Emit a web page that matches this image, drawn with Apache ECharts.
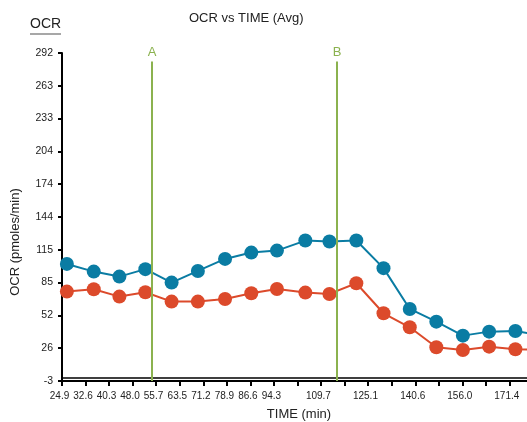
<!DOCTYPE html>
<html>
<head>
<meta charset="utf-8">
<script src="https://cdn.jsdelivr.net/npm/echarts@6/dist/echarts.min.js"></script>
<style>html,body{margin:0;padding:0;background:#fff}#c{width:527px;height:422px}</style>
</head>
<body>
<div id="c"></div>
<script>
// ---- data ----
const times = [26.5, 35.3, 43.7, 52.2, 60.8, 69.4, 78.3, 86.9, 95.3, 104.6, 112.5, 121.3, 130.2, 138.8, 147.5, 156.2, 164.8, 173.4, 182.1];
const blueValues = [102.3, 95.4, 90.9, 97.6, 85.5, 96.0, 106.8, 112.5, 114.3, 123.3, 122.4, 123.3, 98.5, 61.8, 50.4, 37.8, 41.4, 42.0, 37.8];
const redValues = [77.4, 79.5, 72.9, 76.8, 68.4, 68.4, 70.8, 75.9, 79.8, 76.5, 75.3, 84.9, 57.9, 45.3, 27.3, 24.9, 27.9, 25.5, 25.0];
const xTickValues = [24.9, 32.6, 40.3, 48.0, 55.7, 63.5, 71.2, 78.9, 86.6, 94.3, 102.0, 109.7, 117.4, 125.1, 132.8, 140.6, 148.3, 156.0, 163.7, 171.4];
const xLabelValues = [24.9, 32.6, 40.3, 48.0, 55.7, 63.5, 71.2, 78.9, 86.6, 94.3, 109.7, 125.1, 140.6, 156.0, 171.4];
const yTickValues = [-3, 26.5, 56, 85.5, 115, 144.5, 174, 203.5, 233, 262.5, 292];
const yTickLabels = ['-3', '26', '52', '85', '115', '144', '174', '204', '233', '263', '292'];
const markerTimes = [54.4, 115.0];
const markerNames = ['A', 'B'];
const markerTop = 284.4;

const FONT = 'Liberation Sans, Arial, Helvetica, sans-serif';
const BLUE = '#0a7ca3';
const RED = '#dc4a2b';
const GREEN = '#8bb24f';

const chart = echarts.init(document.getElementById('c'), null, {renderer: 'canvas'});

const pairs = (xs, ys) => xs.map((x, i) => [x, ys[i]]);

const markLineData = markerTimes.map((t, i) => [
  {coord: [t, yTickValues[0]], symbol: 'none'},
  {coord: [t, markerTop], symbol: 'none', label: {show: true, formatter: markerNames[i]}}
]);

const option = {
  animation: false,
  grid: {left: 62, right: 0, top: 53, bottom: 41, containLabel: false},
  xAxis: [{
    type: 'value', min: 24.9, max: 177.2,
    axisLine: {show: true, onZero: false, lineStyle: {color: '#000', width: 2}},
    axisTick: {show: true, customValues: xTickValues, length: 5, lineStyle: {color: '#000', width: 2}},
    axisLabel: {
      show: true, customValues: xLabelValues, margin: 10,
      color: '#222', fontSize: 10, fontFamily: FONT, padding: [0, 5, 0, 0],
      formatter: v => v.toFixed(1)
    },
    splitLine: {show: false}
  }, {
    type: 'value', min: 24.9, max: 177.2, position: 'bottom', offset: -3,
    axisLine: {show: true, onZero: false, lineStyle: {color: '#000', width: 1.5}},
    axisTick: {show: false}, axisLabel: {show: false}, splitLine: {show: false}
  }],
  yAxis: {
    type: 'value', min: -3, max: 292,
    axisLine: {show: true, onZero: false, lineStyle: {color: '#000', width: 2}},
    axisTick: {show: true, customValues: yTickValues, length: 4, lineStyle: {color: '#000', width: 2}},
    axisLabel: {
      show: true, customValues: yTickValues, margin: 9,
      color: '#222', fontSize: 10.5, fontFamily: FONT,
      formatter: v => {
        const i = yTickValues.findIndex(t => Math.abs(t - v) < 0.01);
        return i >= 0 ? yTickLabels[i] : '';
      }
    },
    splitLine: {show: false}
  },
  graphic: [
    {type: 'text', left: 189, top: 12, style: {text: 'OCR vs TIME (Avg)', font: '13px ' + FONT, fill: '#222'}},
    {type: 'text', left: 30, top: 17, style: {text: 'OCR', font: '14px ' + FONT, fill: '#222'}},
    {type: 'line', shape: {x1: 30, y1: 34, x2: 61, y2: 34}, style: {stroke: '#8a8a8a', lineWidth: 1.5}},
    {type: 'text', x: 15, y: 242, rotation: Math.PI / 2,
      style: {text: 'OCR (pmoles/min)', font: '13px ' + FONT, fill: '#222', align: 'center', verticalAlign: 'middle'}},
    {type: 'text', x: 299, y: 414,
      style: {text: 'TIME (min)', font: '13px ' + FONT, fill: '#222', align: 'center', verticalAlign: 'middle'}}
  ],
  series: [{
    name: 'Group 1', type: 'line', data: pairs(times, blueValues),
    symbol: 'circle', symbolSize: 14, clip: true,
    lineStyle: {color: BLUE, width: 2}, itemStyle: {color: BLUE},
    z: 3
  }, {
    name: 'Group 2', type: 'line', data: pairs(times, redValues),
    symbol: 'circle', symbolSize: 14, clip: true,
    lineStyle: {color: RED, width: 2}, itemStyle: {color: RED},
    z: 3,
    markLine: {
      silent: true, symbol: 'none', z: 5,
      lineStyle: {color: GREEN, width: 2, type: 'solid'},
      label: {show: true, position: 'end', distance: 3, color: GREEN, fontSize: 13, fontFamily: FONT},
      data: markLineData
    }
  }]
};
chart.setOption(option);
</script>
</body>
</html>
